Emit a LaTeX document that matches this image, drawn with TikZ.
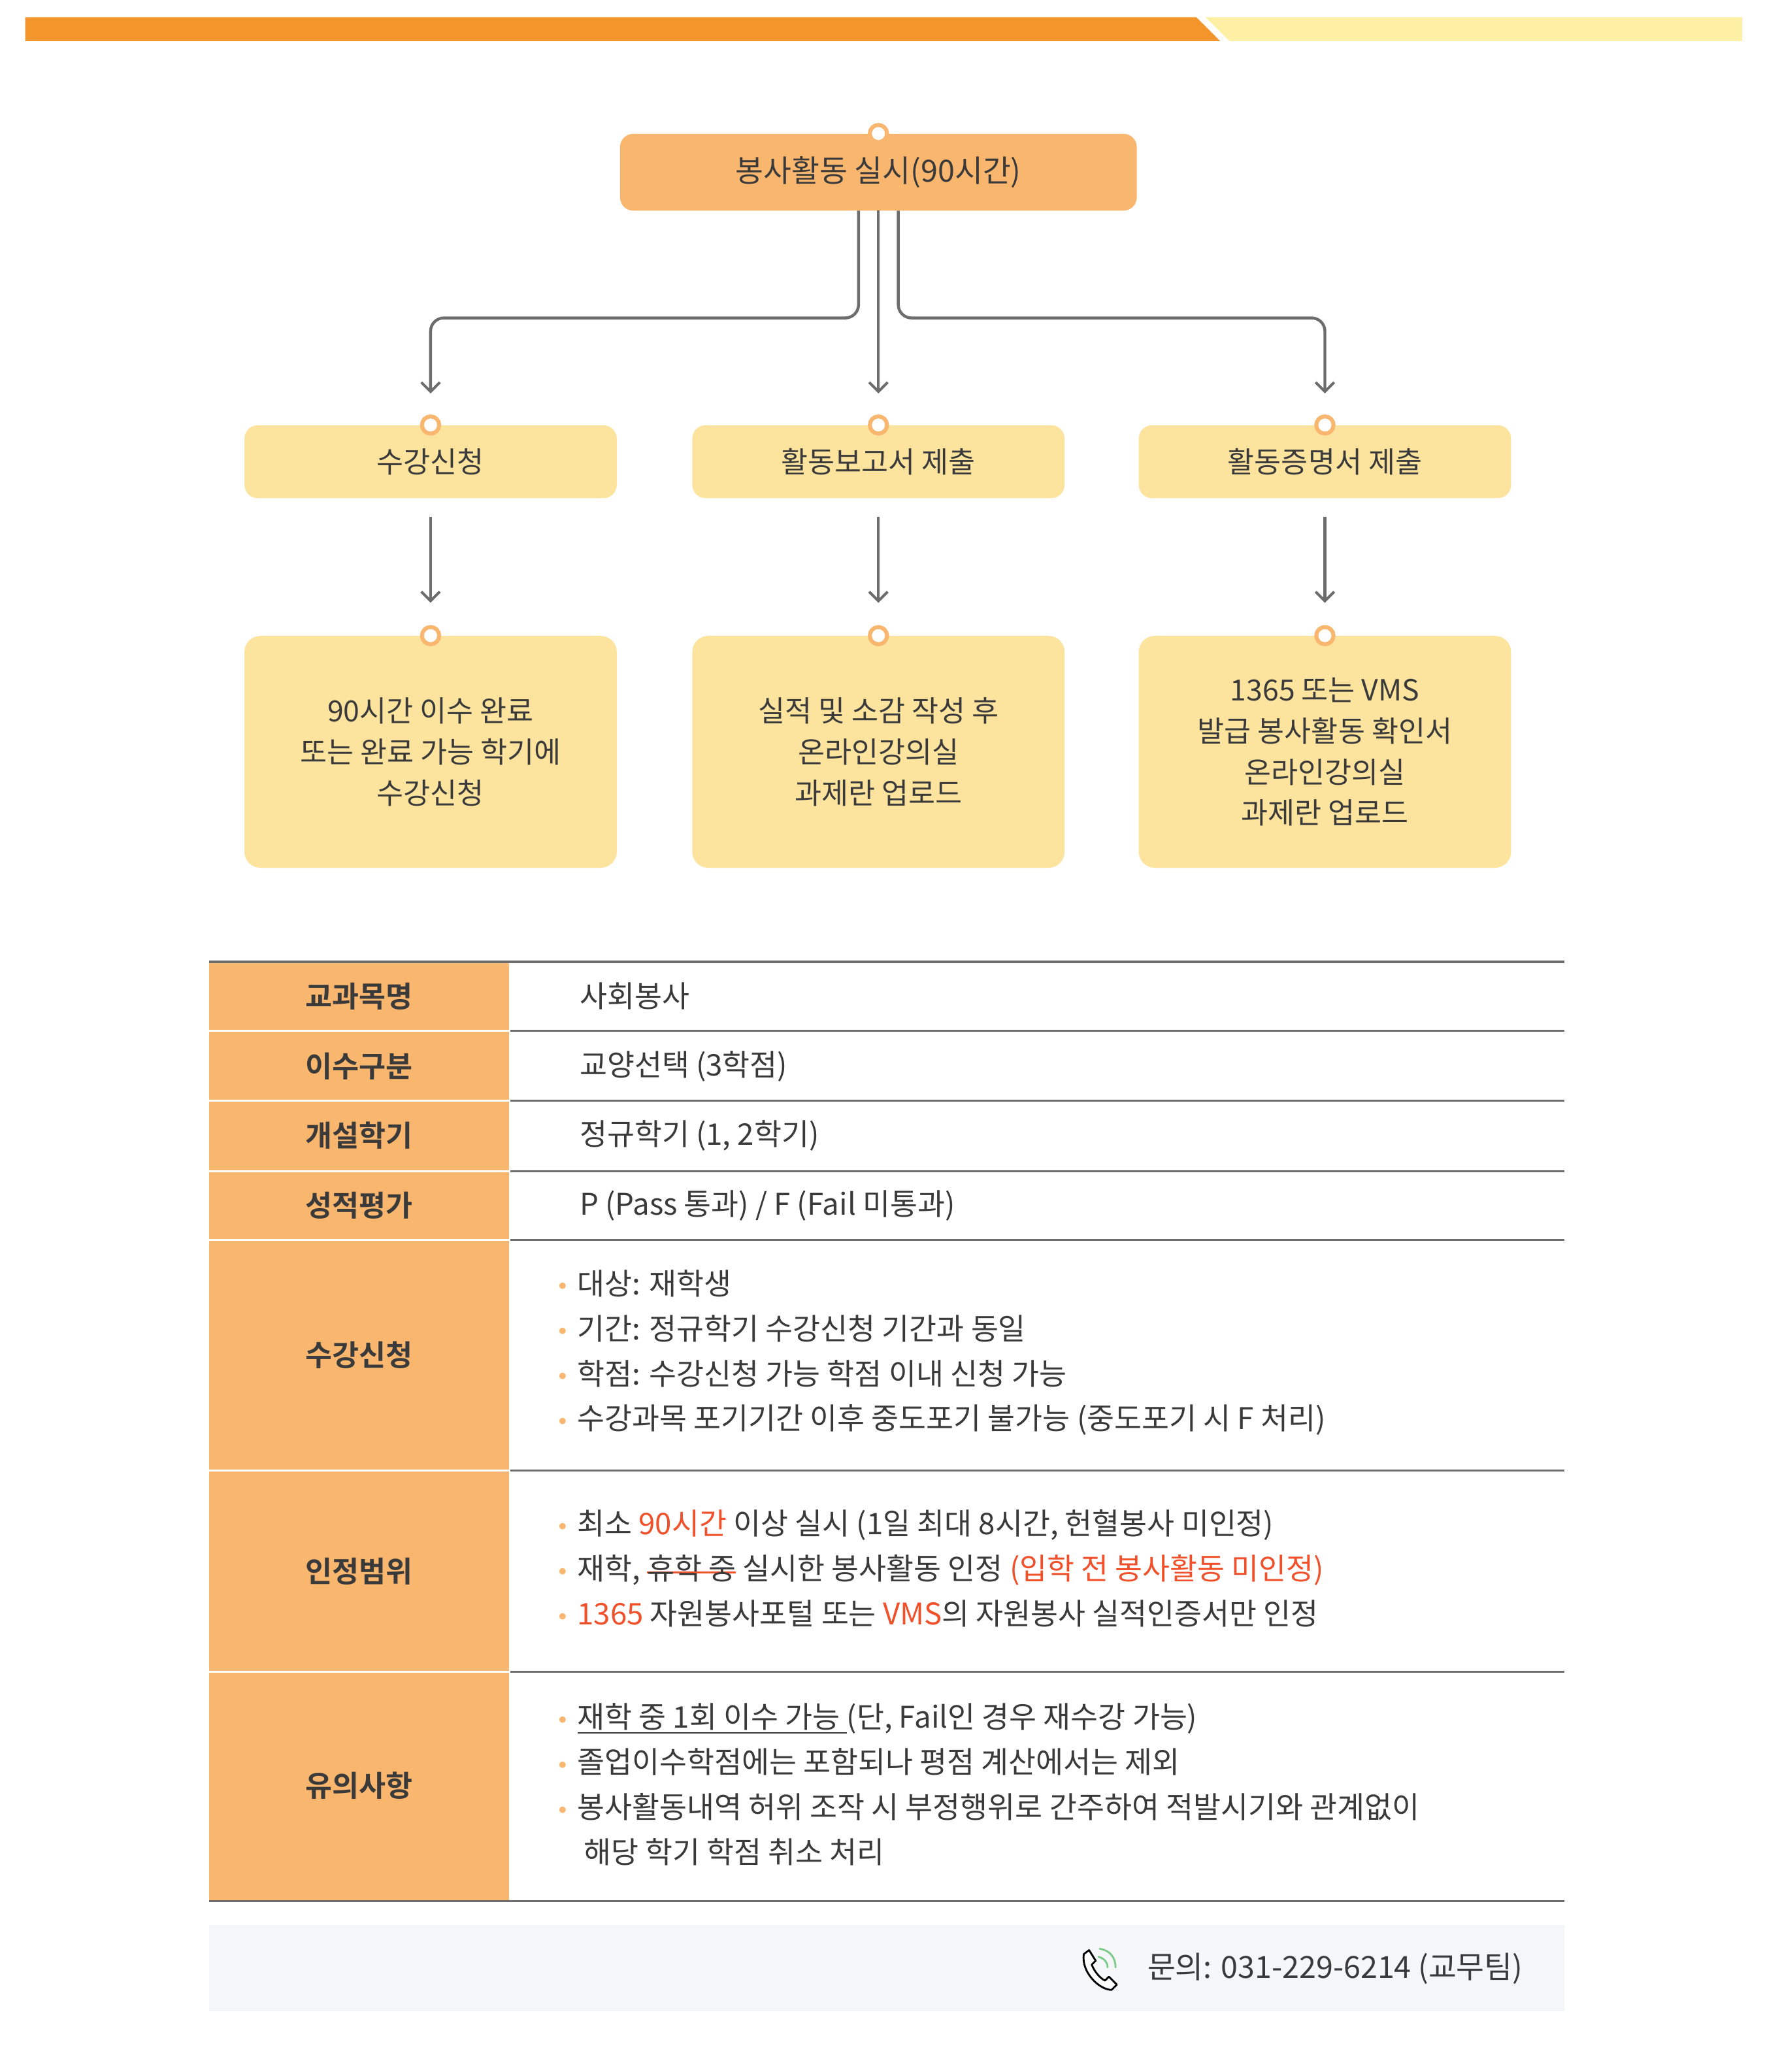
\documentclass[tikz,border=0pt]{standalone}
\usepackage{fontspec}
\setmainfont{Noto Sans CJK KR}
\newfontfamily\bfk{Noto Sans CJK KR Bold}
\usetikzlibrary{arrows.meta}
\definecolor{org}{HTML}{F4952B}
\definecolor{lyel}{HTML}{FDEFA3}
\definecolor{peach}{HTML}{F9B66E}
\definecolor{pale}{HTML}{FDE49E}
\definecolor{txt}{HTML}{3A3A3A}
\definecolor{red1}{HTML}{F0502A}
\definecolor{gl}{HTML}{6D6D6D}
\definecolor{foot}{HTML}{F5F6F8}
\definecolor{grn}{HTML}{7CC98A}
\newcommand\redstrike[1]{\setbox0\hbox{#1}\rlap{\textcolor{red1}{\rule[0.4ex]{\wd0}{1.3pt}}}\box0\relax}
\newcommand\undl[1]{\setbox0\hbox{#1}\rlap{\rule[-0.35ex]{\wd0}{1.3pt}}\box0\relax}
\newcommand\bul{\textcolor{peach}{\raisebox{0.25ex}{\scalebox{0.6}{$\bullet$}}}\hspace{8pt}}
\tikzset{
 x=1pt,y=-1pt,
 topbox/.style={fill=peach,rounded corners=10pt,text=txt,font=\fontsize{23}{26}\selectfont},
 midbox/.style={fill=pale,rounded corners=10pt,text=txt,font=\fontsize{22}{26}\selectfont},
 lowbox/.style={fill=pale,rounded corners=12pt,text=txt,align=center,font=\fontsize{22}{31}\selectfont},
 pin/.style={circle,fill=white,draw=peach,line width=3pt,inner sep=0pt,minimum size=13pt},
 conn/.style={draw=gl,line width=2.2pt,rounded corners=10pt,-{Straight Barb[length=7pt,width=14pt,line width=2pt]}},
 hline/.style={draw=gl,line width=1.5pt},
 lab/.style={text=txt,font=\bfk\fontsize{22}{26}\selectfont},
 val/.style={text=txt,anchor=west,align=left,font=\fontsize{22.5}{34}\selectfont},
}
\begin{document}
\begin{tikzpicture}
\useasboundingbox[fill=white] (0,0) rectangle (1332,1564);
% top bar
\fill[org] (19,13) -- (903,13) -- (921,31) -- (19,31) -- cycle;
\fill[lyel] (910,13) -- (1315,13) -- (1315,31) -- (928,31) -- cycle;
% flow
\node[topbox,minimum width=390pt,minimum height=58pt] (top) at (663,130) {봉사활동 실시(90시간)};
\node[pin] at (top.north) {};
\foreach \n/\x/\t/\b in {a/325/수강신청/{90시간 이수 완료\\또는 완료 가능 학기에\\수강신청},
 b/663/활동보고서 제출/{실적 및 소감 작성 후\\온라인강의실\\과제란 업로드},
 c/1000/활동증명서 제출/{1365 또는 VMS\\발급 봉사활동 확인서\\온라인강의실\\과제란 업로드}}{
 \node[midbox,minimum width=281pt,minimum height=55pt] (m\n) at (\x,348.5) {\t};
 \node[pin] at (m\n.north) {};
 \node[lowbox,minimum width=281pt,minimum height=175pt] (l\n) at (\x,567.5) {\b};
 \node[pin] at (l\n.north) {};
 \coordinate (s\n) at (\x,390);
 \coordinate (e\n) at (\x,455);
 \draw[conn] (s\n) -- (e\n);
}
\coordinate (ta) at (648,159);
\coordinate (tb) at (663,159);
\coordinate (tc) at (678,159);
\coordinate (ea) at (325,297);
\coordinate (eb) at (663,297);
\coordinate (ec) at (1000,297);
\draw[conn] (ta) -- (648,240) -- (325,240) -- (ea);
\draw[conn] (tb) -- (eb);
\draw[conn] (tc) -- (678,240) -- (1000,240) -- (ec);
% table
\fill[peach] (158,726) rectangle (385,1435);
\draw[draw=white,line width=1.5pt] (158,778) -- (385,778) (158,831) -- (385,831) (158,884) -- (385,884) (158,936) -- (385,936) (158,1110) -- (385,1110) (158,1262) -- (385,1262);
\draw[draw=white,line width=1.5pt] (385,726) -- (385,1435);
\foreach \y in {778,831,884,936,1110,1262}{\draw[hline] (385,\y) -- (1181,\y);}
\draw[hline] (158,726) -- (1181,726);
\draw[hline] (158,1435) -- (1181,1435);
\node[lab] (k1) at (271,752) {교과목명};
\node[lab] (k2) at (271,805) {이수구분};
\node[lab] (k3) at (271,857) {개설학기};
\node[lab] (k4) at (271,910) {성적평가};
\node[lab] (k5) at (271,1023) {수강신청};
\node[lab] (k6) at (271,1186) {인정범위};
\node[lab] (k7) at (271,1348) {유의사항};
\node[val] (v1) at (434,752) {사회봉사};
\node[val] (v2) at (434,805) {교양선택 (3학점)};
\node[val] (v3) at (434,857) {정규학기 (1, 2학기)};
\node[val] (v4) at (434,910) {P (Pass 통과) / F (Fail 미통과)};
\node[val,anchor=west] (v5) at (418,1021) {\bul 대상: 재학생\\\bul 기간: 정규학기 수강신청 기간과 동일\\\bul 학점: 수강신청 가능 학점 이내 신청 가능\\\bul 수강과목 포기기간 이후 중도포기 불가능 (중도포기 시 F 처리)};
\node[val] (v6) at (418,1184) {\bul 최소 \textcolor{red1}{90시간} 이상 실시 (1일 최대 8시간, 헌혈봉사 미인정)\\\bul 재학, \redstrike{휴학 중} 실시한 봉사활동 인정 \textcolor{red1}{(입학 전 봉사활동 미인정)}\\\bul \textcolor{red1}{1365} 자원봉사포털 또는 \textcolor{red1}{VMS}의 자원봉사 실적인증서만 인정};
\node[val] (v7) at (418,1347) {\bul \undl{재학 중 1회 이수 가능 }(단, Fail인 경우 재수강 가능)\\\bul 졸업이수학점에는 포함되나 평점 계산에서는 제외\\\bul 봉사활동내역 허위 조작 시 부정행위로 간주하여 적발시기와 관계없이\\\hspace*{19pt}해당 학기 학점 취소 처리};
% footer
\fill[foot] (158,1453) rectangle (1181,1518);
\node[text=txt,anchor=east,font=\fontsize{23}{26}\selectfont] (ph) at (1153,1486) {문의: 031-229-6214 (교무팀)};
\begin{scope}[shift={(829,1487)}]
\draw[line width=1.4pt,line join=round,fill=white] (-11,-12) -- (-7,-15) -- (-2,-7) -- (-5,-4)
  .. controls (-3,1) and (1,6) .. (5,8) -- (8,5) -- (14,11) -- (10,15)
  .. controls (1,15) and (-13,2) .. cycle;
\draw[grn,line width=1.4pt,line cap=round] (1,-16) .. controls (9,-15) and (13,-9) .. (13,-2)
  (0,-10) .. controls (4,-9) and (7,-6) .. (7,-2);
\end{scope}
\end{tikzpicture}
\end{document}
